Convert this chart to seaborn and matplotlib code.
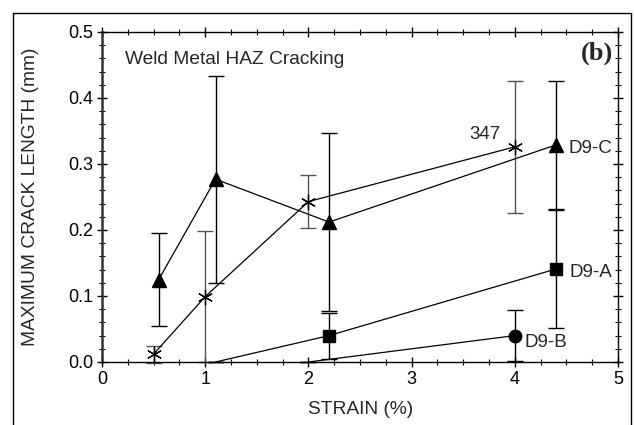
import matplotlib
matplotlib.use("Agg")
import matplotlib.pyplot as plt
import seaborn as sns
import pandas as pd
from matplotlib.ticker import MultipleLocator, FormatStrFormatter
from matplotlib.lines import Line2D

# ---- data ----
x_347 = [0.5, 1.0, 2.0, 4.0]
y_347 = [0.012, 0.099, 0.243, 0.326]
e_347 = [0.013, 0.099, 0.040, 0.100]

x_c = [0.55, 1.1, 2.2, 4.4]
y_c = [0.125, 0.277, 0.212, 0.329]
e_c = [0.070, 0.157, 0.135, 0.097]

x_a = [1.1, 2.2, 4.4]
y_a = [0.0, 0.040, 0.141]
e_a = [0.0, 0.035, 0.089]

x_b = [2.0, 4.0]
y_b = [0.0, 0.040]
e_b = [0.0, 0.039]

labels = ["347", "D9-C", "D9-A", "D9-B"]

sns.set_style("ticks")
plt.rcParams['font.family'] = ['Liberation Sans', 'DejaVu Sans']

fig = plt.figure(figsize=(6.34, 4.25), dpi=100)
ax = fig.add_axes([102/634, 1-362/425, 516/634, 330/425])

asterisk = (6, 2, 0)
series = [
    (x_347, y_347, e_347, asterisk, 11, "#555555", None),
    (x_c, y_c, e_c, "^", 10, "black", None),
    (x_a, y_a, e_a, "s", 8, "black", [1, 2]),
    (x_b, y_b, e_b, "o", 9, "black", [1]),
]
for xs, ys, es, mk, ms, ecol, mev in series:
    ax.errorbar(xs, ys, yerr=es, fmt="none", ecolor=ecol, elinewidth=1.0,
                capsize=5.5, capthick=1.0, clip_on=False, zorder=2)
    df = pd.DataFrame({"x": xs, "y": ys})
    sns.lineplot(data=df, x="x", y="y", ax=ax, sort=False, color="black",
                 linewidth=0.9, zorder=3)
    df_m = df.iloc[mev] if mev is not None else df
    ax.plot(df_m["x"], df_m["y"], linestyle="none", marker=mk, markersize=ms,
            color="black", markeredgecolor="black",
            markeredgewidth=0.9 if mk == asterisk else 1.0, zorder=4)

ax.set_xlim(0, 5)
ax.set_ylim(0, 0.5)
ax.xaxis.set_major_locator(MultipleLocator(1))
ax.xaxis.set_minor_locator(MultipleLocator(0.25))
ax.yaxis.set_major_locator(MultipleLocator(0.1))
ax.yaxis.set_minor_locator(MultipleLocator(0.02))
ax.yaxis.set_major_formatter(FormatStrFormatter("%.1f"))
ax.tick_params(which="both", top=True, right=True, labelsize=13, colors="black")
ax.tick_params(which="major", direction="inout", length=7, width=1.0, pad=3)
ax.tick_params(which="minor", direction="inout", length=4, width=0.8)
for side in ["top", "right", "bottom"]:
    ax.spines[side].set_linewidth(1.0)
    ax.spines[side].set_color("black")
ax.spines["left"].set_linewidth(1.8)
ax.spines["left"].set_color("#333333")

ax.set_xlabel("STRAIN (%)", fontsize=13.8, va="center")
ax.set_ylabel("MAXIMUM CRACK LENGTH (mm)", fontsize=13.8, va="center")
ax.xaxis.set_label_coords(0.502, (362-410)/330)
ax.yaxis.set_label_coords((31-102)/516, 0.5)

ax.text(0.22, 0.458, "Weld Metal HAZ Cracking", fontsize=13.8, va="center", ha="left")
ax.text(3.86, 0.344, labels[0], fontsize=13.5, va="center", ha="right")
ax.text(4.52, 0.324, labels[1], fontsize=13.5, va="center", ha="left")
ax.text(4.53, 0.135, labels[2], fontsize=13.5, va="center", ha="left")
ax.text(4.09, 0.030, labels[3], fontsize=13.5, va="center", ha="left")
ax.text(4.95, 0.468, "(b)", fontsize=19, fontweight="bold", va="center", ha="right",
        family=["Liberation Serif", "DejaVu Serif"])

# outer frame
fx0, fy0, fx1 = 13/634, 1-13/425, 631/634
fig.add_artist(Line2D([fx0, fx0], [0, fy0], transform=fig.transFigure, color="black", lw=1.0))
fig.add_artist(Line2D([fx0, fx1], [fy0, fy0], transform=fig.transFigure, color="black", lw=1.0))
fig.add_artist(Line2D([fx1, fx1], [fy0, 0], transform=fig.transFigure, color="black", lw=1.0))

fig.savefig("out.png", dpi=100)
